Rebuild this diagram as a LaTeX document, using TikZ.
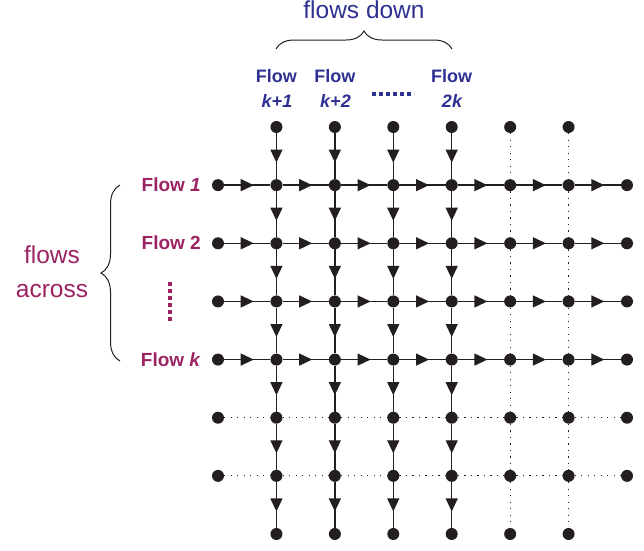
\documentclass[tikz,border=0pt]{standalone}
\usepackage{fontspec}
\setmainfont{Liberation Sans}
\usetikzlibrary{arrows.meta,decorations.markings,decorations.pathreplacing}
\definecolor{downblue}{RGB}{46,49,146}
\definecolor{acrossred}{RGB}{155,35,98}
\definecolor{gridc}{RGB}{35,31,32}

\begin{document}
\begin{tikzpicture}[x=1pt,y=-1pt,
  dot/.style={circle,fill=gridc,inner sep=0pt,minimum size=12pt},
  flowline/.style={draw=gridc,color=gridc,line width=1.3pt},
  arrowed/.style={flowline,
    decoration={markings,
      mark=at position 0.5 with {\arrow[xshift=6.5pt]{Triangle[length=13pt,width=12pt]}}},
    postaction={decorate}},
  idle/.style={draw=gridc,line width=1.2pt,dash pattern=on 1.2pt off 5.3pt},
  bigtitle/.style={font=\fontsize{24.5}{30}\selectfont},
  flowlbl/.style={font=\bfseries\fontsize{18}{22}\selectfont,inner sep=0pt},
  rowlbl/.style={font=\bfseries\fontsize{19}{22}\selectfont,inner sep=0pt,text=acrossred,anchor=base east},
  bracestyle/.style={draw=gridc,line width=1pt,decorate,decoration={brace,amplitude=18pt}},
  ellip/.style={line width=4pt,dash pattern=on 3.6pt off 3.4pt}
]
\useasboundingbox (0,0) rectangle (644,550);

% grid points: columns 0..7, rows 0..7
\foreach \i in {1,...,6}
  \foreach \j in {0,7}
    \node[dot] (n-\i-\j) at ({218+58.43*\i},{127+58.14*\j}) {};
\foreach \i in {0,...,7}
  \foreach \j in {1,...,6}
    \node[dot] (n-\i-\j) at ({218+58.43*\i},{127+58.14*\j}) {};

% flows down: active columns with arrows, idle columns dotted
\foreach \i in {1,...,4}
  \foreach \j in {0,...,6} {
    \pgfmathtruncatemacro\k{\j+1}
    \draw[arrowed] (n-\i-\j) -- (n-\i-\k);
  }
\foreach \i in {5,6}
  \foreach \j in {0,...,6} {
    \pgfmathtruncatemacro\k{\j+1}
    \draw[idle] (n-\i-\j) -- (n-\i-\k);
  }

% flows across: active rows with arrows, idle rows dotted
\foreach \j in {1,...,4}
  \foreach \i in {0,...,6} {
    \pgfmathtruncatemacro\k{\i+1}
    \draw[arrowed] (n-\i-\j) -- (n-\k-\j);
  }
\foreach \j in {5,6}
  \foreach \i in {0,...,6} {
    \pgfmathtruncatemacro\k{\i+1}
    \draw[idle] (n-\i-\j) -- (n-\k-\j);
  }

% labels of the downward flows
\node[bigtitle,text=downblue,anchor=base] (fdown) at (364,18) {flows down};
\draw[bracestyle] (276,49) -- (452,49);
\node[flowlbl,text=downblue,anchor=base] (c1a) at (276.4,82) {Flow};
\node[flowlbl,text=downblue,anchor=base] (c1b) at (277,107) {\itshape k+1};
\node[flowlbl,text=downblue,anchor=base] (c2a) at (334.9,82) {Flow};
\node[flowlbl,text=downblue,anchor=base] (c2b) at (335.5,107) {\itshape k+2};
\node[flowlbl,text=downblue,anchor=base] (c4a) at (451.7,82) {Flow};
\node[flowlbl,text=downblue,anchor=base] (c4b) at (452,107) {\itshape 2k};
\draw[ellip,downblue] (372,94) -- (414,94);

% labels of the flows across
\node[bigtitle,text=acrossred,anchor=base] (facr1) at (52,263) {flows};
\node[bigtitle,text=acrossred,anchor=base] (facr2) at (52,297) {across};
\draw[bracestyle,decoration={amplitude=19pt}] (120,361) -- (120,185);
\node[rowlbl] (r1) at (201,191) {Flow \textit{1}};
\node[rowlbl] (r2) at (201,249) {Flow 2};
\node[rowlbl] (rk) at (201,366) {Flow \textit{k}};
\draw[ellip,acrossred] (170,282) -- (170,323);
\end{tikzpicture}
\end{document}
